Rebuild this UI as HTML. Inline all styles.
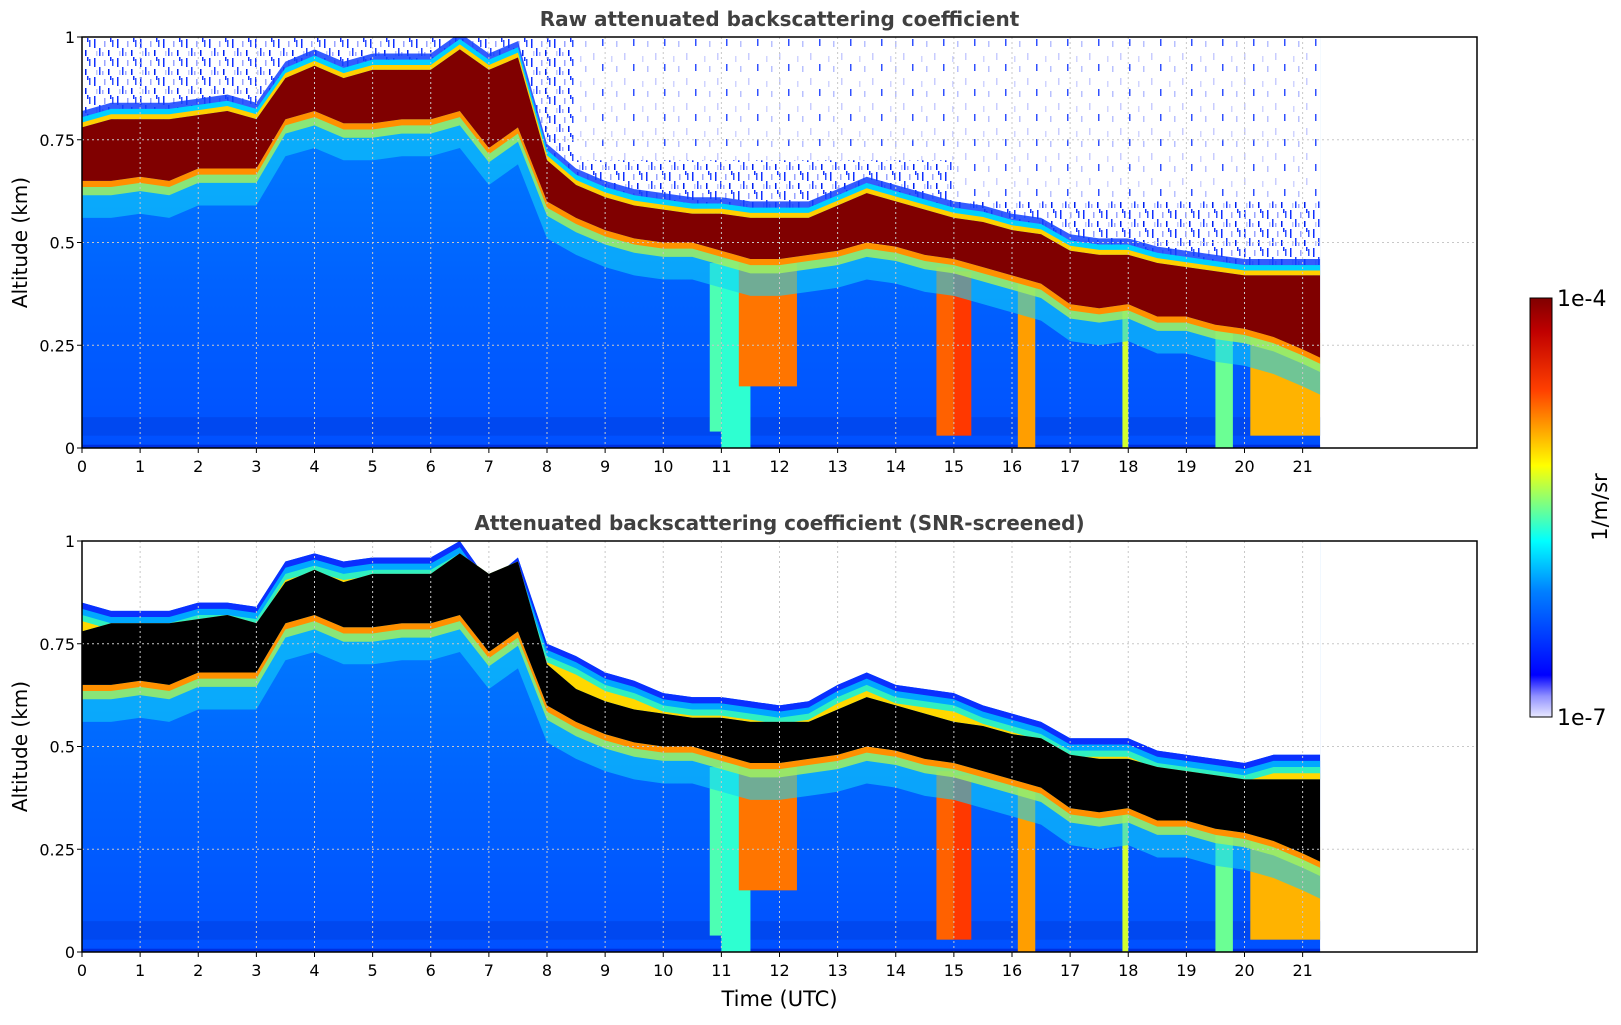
<!DOCTYPE html>
<html><head><meta charset="utf-8">
<style>
body{margin:0;background:#fff;width:1621px;height:1020px;overflow:hidden;font-family:"Liberation Sans","DejaVu Sans",sans-serif}
svg text{font-family:"DejaVu Sans","Liberation Sans",sans-serif}
</style></head>
<body>
<svg id="chart" width="1621" height="1020" viewBox="0 0 1621 1020" xmlns="http://www.w3.org/2000/svg">
<defs>
<pattern id="speckDense" width="23" height="19" patternUnits="userSpaceOnUse">
<rect width="23" height="19" fill="#fff"/>
<rect x="2" y="1" width="1.5" height="9" fill="#1030ff"/><rect x="7" y="10" width="1.5" height="8" fill="#2040ff"/>
<rect x="12" y="3" width="1.5" height="6" fill="#9aa4ff"/><rect x="16" y="12" width="1.5" height="6" fill="#0020f0"/>
<rect x="20" y="2" width="1.5" height="7" fill="#3050ff"/><rect x="10" y="14" width="1.5" height="4" fill="#a0a8ff"/>
<rect x="4" y="13" width="1.5" height="5" fill="#c0c8ff"/><rect x="18" y="0" width="1.5" height="4" fill="#1030ff"/>
</pattern>
<pattern id="speckSparse" width="31" height="25" patternUnits="userSpaceOnUse">
<rect width="31" height="25" fill="#fff"/>
<rect x="4" y="3" width="1.5" height="7" fill="#c8ccff"/><rect x="13" y="14" width="1.5" height="7" fill="#3050ff"/>
<rect x="22" y="6" width="1.5" height="6" fill="#d0d4ff"/><rect x="27" y="16" width="1.5" height="6" fill="#b8c0ff"/>
</pattern>
<linearGradient id="belowGrad" x1="0" y1="1" x2="0" y2="0">
<stop offset="0" stop-color="#0050ff"/><stop offset="0.4" stop-color="#0062ff"/><stop offset="0.75" stop-color="#0078ff"/><stop offset="1" stop-color="#0088ff"/>
</linearGradient>
<linearGradient id="cbGrad" x1="0" y1="1" x2="0" y2="0">
<stop offset="0" stop-color="#e8e8ff"/><stop offset="0.05" stop-color="#9090ff"/><stop offset="0.1" stop-color="#0000ff"/>
<stop offset="0.3" stop-color="#0080ff"/><stop offset="0.42" stop-color="#00ffff"/><stop offset="0.6" stop-color="#ffff00"/>
<stop offset="0.78" stop-color="#ff4000"/><stop offset="0.92" stop-color="#c00000"/><stop offset="1" stop-color="#800000"/>
</linearGradient>
<clipPath id="clipTop"><rect x="82" y="37" width="1395" height="411"/></clipPath>
<clipPath id="clipBot"><rect x="82" y="541" width="1395" height="411"/></clipPath>
</defs>
<g id="layers"></g>
</svg>
<script>
// ---- data ----
const hours = [0,0.5,1,1.5,2,2.5,3,3.5,4,4.5,5,5.5,6,6.5,7,7.5,8,8.5,9,9.5,10,10.5,11,11.5,12,12.5,13,13.5,14,14.5,15,15.5,16,16.5,17,17.5,18,18.5,19,19.5,20,20.5,21,21.3];
const cloudTop = [0.78,0.80,0.80,0.80,0.81,0.82,0.80,0.90,0.93,0.90,0.92,0.92,0.92,0.97,0.92,0.95,0.70,0.64,0.61,0.59,0.58,0.57,0.57,0.56,0.56,0.56,0.59,0.62,0.60,0.58,0.56,0.55,0.53,0.52,0.48,0.47,0.47,0.45,0.44,0.43,0.42,0.42,0.42,0.42];
const cloudBase = [0.65,0.65,0.66,0.65,0.68,0.68,0.68,0.80,0.82,0.79,0.79,0.80,0.80,0.82,0.73,0.78,0.60,0.56,0.53,0.51,0.50,0.50,0.48,0.46,0.46,0.47,0.48,0.50,0.49,0.47,0.46,0.44,0.42,0.40,0.35,0.34,0.35,0.32,0.32,0.30,0.29,0.27,0.24,0.22];
const screenedTop = [0.85,0.83,0.83,0.83,0.85,0.85,0.84,0.95,0.97,0.95,0.96,0.96,0.96,1.0,0.90,0.96,0.75,0.72,0.68,0.66,0.63,0.62,0.62,0.61,0.60,0.61,0.65,0.68,0.65,0.64,0.63,0.60,0.58,0.56,0.52,0.52,0.52,0.49,0.48,0.47,0.46,0.48,0.48,0.48];
const virgaStart = [10.8,11.0,11.3,14.7,15.0,16.1,17.9,19.5,20.1];
const virgaEnd = [11.0,11.5,12.3,15.0,15.3,16.4,18.0,19.8,21.3];
const virgaTop = [0.45,0.46,0.46,0.44,0.43,0.40,0.35,0.30,0.28];
const virgaBottom = [0.04,0.0,0.15,0.03,0.03,0.0,0.0,0.0,0.03];
const virgaLevel = [0.45,0.42,0.76,0.78,0.82,0.72,0.58,0.48,0.70];
const xTicks = [0,1,2,3,4,5,6,7,8,9,10,11,12,13,14,15,16,17,18,19,20,21];
const yTicks = [0,0.25,0.5,0.75,1];
const yTickLabels = ["0","0.25","0.5","0.75","1"];

// ---- axes ----
const X0=82, AXW=1395, TMAX=24, AXH=411;
const panels=[{top:37,clip:'clipTop',raw:true,title:'Raw attenuated backscattering coefficient',tname:'top-panel'},
              {top:541,clip:'clipBot',raw:false,title:'Attenuated backscattering coefficient (SNR-screened)',tname:'bottom-panel'}];
const xs=t=>X0+t*AXW/TMAX;
function ysF(p){return a=>p.top+AXH-a*AXH;}
function jet(v){
  const c=x=>Math.max(0,Math.min(1,x));
  const r=c(1.5-Math.abs(4*v-3)),g=c(1.5-Math.abs(4*v-2)),b=c(1.5-Math.abs(4*v-1));
  return `rgb(${Math.round(r*255)},${Math.round(g*255)},${Math.round(b*255)})`;
}
const NS='http://www.w3.org/2000/svg';
const root=document.getElementById('layers');
function mk(tag,attrs,parent){const e=document.createElementNS(NS,tag);for(const k in attrs)e.setAttribute(k,attrs[k]);(parent||root).appendChild(e);return e;}
function areaPath(ys,upper,lower,offU,offL){
  let d='';
  hours.forEach((t,i)=>{d+=(i?'L':'M')+xs(t)+','+ys(upper[i]+(offU||0));});
  for(let i=hours.length-1;i>=0;i--){d+='L'+xs(hours[i])+','+ys(lower[i]+(offL||0));}
  return d+'Z';
}
const ones=hours.map(()=>1);

panels.forEach(p=>{
  const ys=ysF(p);
  const g=mk('g',{'clip-path':`url(#${p.clip})`});
  
  
  const tEnd=hours[hours.length-1];
  const bg=mk('rect',{x:xs(0),y:ys(1),width:xs(tEnd)-xs(0),height:AXH,fill:'url(#belowGrad)'},g);
  
  
  // near-surface strips
  mk('rect',{x:xs(0),y:ys(0.075),width:xs(tEnd)-xs(0),height:ys(0.03)-ys(0.075),fill:'#0048f0'},g);
  mk('rect',{x:xs(0),y:ys(0.008),width:xs(tEnd)-xs(0),height:ys(0)-ys(0.008),fill:'#0030e0'},g);
  if(p.raw){
    const clipA=mk('path',{d:areaPath(ys,ones,cloudTop,0.01,0),fill:'url(#speckDense)'},g);
    
    
    mk('rect',{x:xs(8.5),y:ys(1),width:xs(tEnd)-xs(8.5),height:AXH*0.3,fill:'url(#speckSparse)'},g);
    mk('rect',{x:xs(15),y:ys(1),width:xs(tEnd)-xs(15),height:AXH*0.4,fill:'url(#speckSparse)'},g);
    mk('path',{d:areaPath(ys,cloudTop,cloudTop,0.04,0),fill:'#1040ff',opacity:0.85},g);
    mk('path',{d:areaPath(ys,cloudTop,cloudTop,0.025,0),fill:'#00d0ff'},g);
    mk('path',{d:areaPath(ys,cloudTop,cloudTop,0.012,0),fill:'#ffd000'},g);
  } else {
    mk('path',{d:areaPath(ys,ones,screenedTop,0.01,0),fill:'#fff'},g);
    mk('path',{d:areaPath(ys,screenedTop,cloudTop,0,0),fill:'#0a30ff'},g);
    mk('path',{d:areaPath(ys,screenedTop,cloudTop,-0.015,0),fill:'#00a8ff'},g);
    mk('path',{d:areaPath(ys,screenedTop,cloudTop,-0.03,0),fill:'#30f0c0'},g);
    mk('path',{d:areaPath(ys,screenedTop,cloudTop,-0.045,0),fill:'#ffd800'},g);
  }
  // virga columns
  virgaStart.forEach((s,i)=>{
    const r=mk('rect',{x:xs(s),y:ys(virgaTop[i]),width:xs(virgaEnd[i])-xs(s),height:ys(virgaBottom[i])-ys(virgaTop[i]),fill:jet(virgaLevel[i])},g);
    
    
  });
  mk('path',{d:areaPath(ys,cloudBase,cloudBase,0,-0.09),fill:'#10d0f8',opacity:0.6},g);
  mk('path',{d:areaPath(ys,cloudBase,cloudBase,0,-0.035),fill:'#a0f060',opacity:0.85},g);
  mk('path',{d:areaPath(ys,cloudBase,cloudBase,0,-0.015),fill:'#ff9000'},g);
  const core=mk('path',{d:areaPath(ys,cloudTop,cloudBase,0,0),fill:p.raw?'#800000':'#000'},g);
  
  

  xTicks.forEach(t=>{const l=mk('line',{x1:xs(t),x2:xs(t),y1:p.top,y2:p.top+AXH,stroke:'#c8c8c8','stroke-dasharray':'2,3','stroke-width':1});
    });
  yTicks.forEach(a=>{const l=mk('line',{x1:X0,x2:X0+AXW,y1:ys(a),y2:ys(a),stroke:'#c8c8c8','stroke-dasharray':'2,3','stroke-width':1});
    });
  const fr=mk('rect',{x:X0,y:p.top,width:AXW,height:AXH,fill:'none',stroke:'#000','stroke-width':1.5});
  
  
  xTicks.forEach(t=>{
    mk('line',{x1:xs(t),x2:xs(t),y1:p.top+AXH,y2:p.top+AXH+5,stroke:'#000'});
    const tx=mk('text',{x:xs(t),y:p.top+AXH+24,'text-anchor':'middle','font-size':16,fill:'#000'});
    tx.textContent=String(t);
    
    
  });
  yTicks.forEach((a,i)=>{
    mk('line',{x1:X0-5,x2:X0,y1:ys(a),y2:ys(a),stroke:'#000'});
    const tx=mk('text',{x:X0-7,y:ys(a)+6,'text-anchor':'end','font-size':16,fill:'#000'});
    tx.textContent=yTickLabels[i];
    
    
  });
  const tt=mk('text',{x:X0+AXW/2,y:p.top-11,'text-anchor':'middle','font-size':20,'font-weight':'bold',fill:'#404040'});
  tt.textContent=p.title;
  
  
  const yl=mk('text',{x:0,y:0,'text-anchor':'middle','font-size':20,fill:'#000',transform:`translate(27,${p.top+AXH/2}) rotate(-90)`});
  yl.textContent='Altitude (km)';
  
  
});
const xl=mk('text',{x:X0+AXW/2,y:1006,'text-anchor':'middle','font-size':21,fill:'#000'});
xl.textContent='Time (UTC)';


const cb=mk('rect',{x:1530,y:298,width:22,height:419,fill:'url(#cbGrad)',stroke:'#000','stroke-width':1});


const c1=mk('text',{x:1557,y:306,'font-size':22,fill:'#000'});c1.textContent='1e-4';

const c2=mk('text',{x:1557,y:725,'font-size':22,fill:'#000'});c2.textContent='1e-7';

const cu=mk('text',{x:0,y:0,'text-anchor':'middle','font-size':21,fill:'#000',transform:'translate(1607,507) rotate(-90)'});
cu.textContent='1/m/sr';

</script>
</body></html>
